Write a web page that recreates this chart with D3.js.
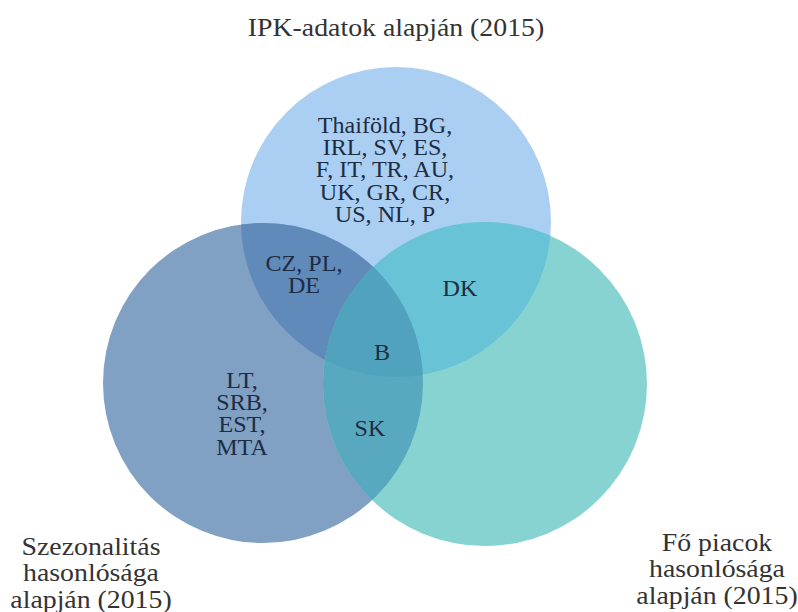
<!DOCTYPE html>
<html>
<head>
<meta charset="utf-8">
<script src="https://cdn.jsdelivr.net/npm/d3@7"></script>
<style>
  body { margin: 0; background: #fff; }
  svg { display: block; }
  svg text { font-family: "Liberation Serif", "DejaVu Serif", serif; }
</style>
</head>
<body>
<div id="chart"></div>
<script>
// halmazok (sets)
const setKeys = ["ipk", "szez", "fo"];
const setTitles = [
  ["IPK-adatok alapján (2015)"],
  ["Szezonalitás", "hasonlósága", "alapján (2015)"],
  ["Fő piacok", "hasonlósága", "alapján (2015)"]
];

// régiók: melyik halmazokba tartozik + az országkódok
const regionSets = [
  ["ipk"],
  ["ipk", "szez"],
  ["ipk", "fo"],
  ["ipk", "szez", "fo"],
  ["szez"],
  ["szez", "fo"],
  ["fo"]
];
const regionMembers = [
  ["Thaiföld, BG,", "IRL, SV, ES,", "F, IT, TR, AU,", "UK, GR, CR,", "US, NL, P"],
  ["CZ, PL,", "DE"],
  ["DK"],
  ["B"],
  ["LT,", "SRB,", "EST,", "MTA"],
  ["SK"],
  []
];

// elrendezés (layout units, 1 unit = 100px), színek
const circleLayout = {
  ipk:  { cx: 0.00,  cy: -0.83, r: 1.55, fill: "#aacff2" },
  szez: { cx: -1.33, cy: 0.78,  r: 1.60, fill: "#80a0c4" },
  fo:   { cx: 0.89,  cy: 0.79,  r: 1.62, fill: "#86d3d1" }
};
const overlapFills = {
  "ipk+szez": "#608aba",
  "ipk+fo": "#68c3d7",
  "szez+fo": "#58a9bf",
  "ipk+szez+fo": "#50a2bd"
};
const regionLabelPos = [
  [-0.11, -1.80], [-0.92, -0.42], [0.64, -0.17], [-0.14, 0.47],
  [-1.54, 0.75], [-0.26, 1.23], [0, 0]
];
const titlePos = [[0.00, -2.78], [-3.05, 2.41], [3.21, 2.37]];

const width = 798, height = 612;
const x = d3.scaleLinear().domain([-1, 1]).range([296, 496]);
const y = d3.scaleLinear().domain([-1, 1]).range([205, 405]);
const rScale = d3.scaleLinear().domain([0, 1]).range([0, 100]);
const stretch = 1.07; // a forrás képen a szöveg kicsit szélesebb

const svg = d3.select("#chart").append("svg")
  .attr("width", width)
  .attr("height", height);

svg.append("rect").attr("width", width).attr("height", height).attr("fill", "#fff");

const defs = svg.append("defs");
setKeys.forEach(k => {
  const c = circleLayout[k];
  defs.append("clipPath").attr("id", "clip-" + k)
    .append("circle")
    .attr("cx", x(c.cx)).attr("cy", y(c.cy)).attr("r", rScale(c.r));
});

function circleOf(sel, k, fill) {
  const c = circleLayout[k];
  return sel.append("circle")
    .attr("cx", x(c.cx)).attr("cy", y(c.cy)).attr("r", rScale(c.r))
    .attr("fill", fill);
}

// 1. körök
const gCircles = svg.append("g");
setKeys.forEach(k => circleOf(gCircles, k, circleLayout[k].fill));

// 2. páros metszetek
const gPairs = svg.append("g");
[["ipk", "szez"], ["ipk", "fo"], ["szez", "fo"]].forEach(([a, b]) => {
  circleOf(gPairs, a, overlapFills[a + "+" + b]).attr("clip-path", "url(#clip-" + b + ")");
});

// 3. hármas metszet
svg.append("g").attr("clip-path", "url(#clip-fo)")
  .call(g => circleOf(g, "ipk", overlapFills["ipk+szez+fo"]).attr("clip-path", "url(#clip-szez)"));

// többsoros szöveg, vízszintesen nyújtva
function multiline(lines, px, py, size, lh, color) {
  const t = svg.append("text")
    .attr("transform", `translate(${x(px)},${y(py)}) scale(${stretch},1)`)
    .attr("text-anchor", "middle")
    .attr("dominant-baseline", "central")
    .style("font-size", size + "px")
    .attr("fill", color);
  lines.forEach((l, j) => {
    t.append("tspan").attr("x", 0).attr("y", j * lh).text(l);
  });
}

// régió feliratok
regionMembers.forEach((lines, i) => {
  if (!lines.length) return;
  const [px, py] = regionLabelPos[i];
  multiline(lines, px, py, 22.5, 22.3, "#1d2c42");
});

// halmaz címek
setTitles.forEach((lines, i) => {
  const [px, py] = titlePos[i];
  multiline(lines, px, py, 26, 26.5, "#333");
});
</script>
</body>
</html>
